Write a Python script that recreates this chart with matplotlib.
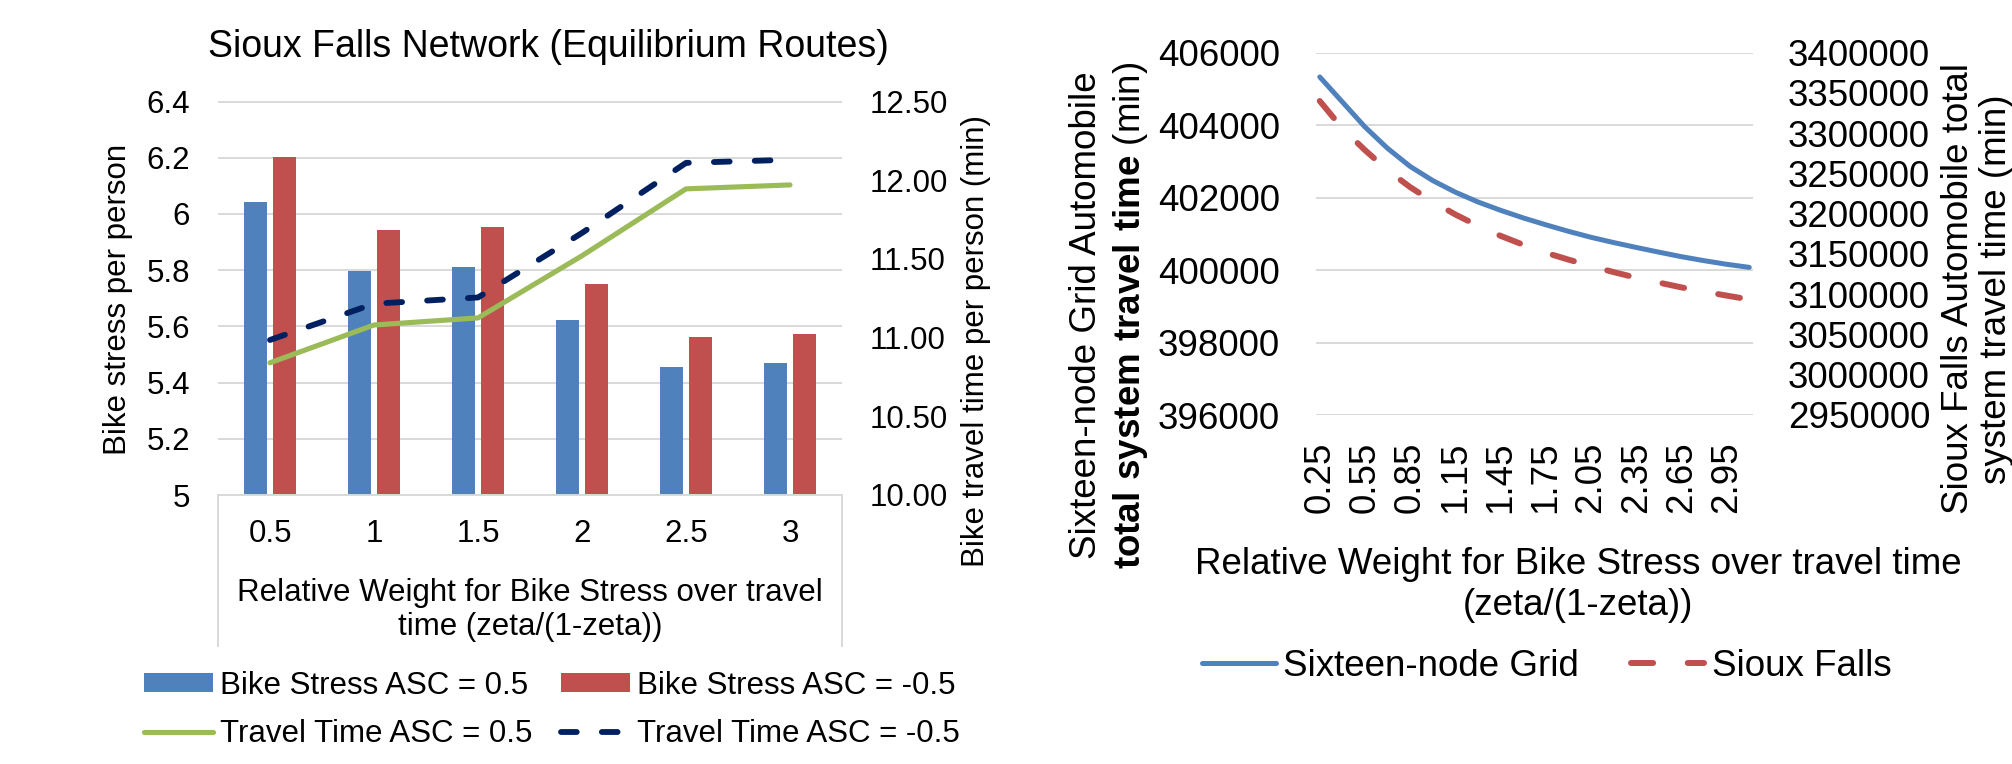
import numpy as np
import matplotlib
matplotlib.use("Agg")
import matplotlib.pyplot as plt
from matplotlib.ticker import FuncFormatter
from matplotlib.lines import Line2D

plt.rcParams['font.family'] = ['Liberation Sans', 'DejaVu Sans']
plt.rcParams['mathtext.fontset'] = 'custom'
plt.rcParams['mathtext.rm'] = 'Liberation Sans'
plt.rcParams['mathtext.bf'] = 'Liberation Sans:bold'

W, H = 2012, 764

# graphique gauche : Sioux Falls (routes d'équilibre)
weights = ["0.5", "1", "1.5", "2", "2.5", "3"]
stress_pos = [6.043, 5.798, 5.810, 5.623, 5.456, 5.468]
stress_neg = [6.202, 5.942, 5.954, 5.749, 5.562, 5.573]
ttime_pos = [10.84, 11.08, 11.125, 11.52, 11.945, 11.97]
ttime_neg = [10.985, 11.215, 11.255, 11.665, 12.11, 12.13]

# graphique droit : temps total automobile (lecture sur la courbe)
zeta = [0.25, 0.40, 0.55, 0.70, 0.85, 1.00, 1.15, 1.30, 1.45, 1.60,
        1.75, 1.90, 2.05, 2.20, 2.35, 2.50, 2.65, 2.80, 2.95, 3.10]
grid16 = [405330, 404640, 403950, 403360, 402860, 402470, 402150, 401880,
          401650, 401440, 401250, 401070, 400905, 400760, 400625, 400495,
          400370, 400260, 400160, 400075]
sioux = [3340000, 3306000, 3279000, 3254000, 3233000, 3215000, 3199000,
         3185000, 3172500, 3161500, 3151500, 3143000, 3135000, 3127500,
         3120500, 3114500, 3108500, 3103300, 3098300, 3093500]
zeta_ticks = [0.25, 0.55, 0.85, 1.15, 1.45, 1.75, 2.05, 2.35, 2.65, 2.95]

BLUE, RED, GREEN, NAVY, GRID = "#4F81BD", "#C0504D", "#9BBB59", "#002060", "#D9D9D9"
FS_L, FS_R = 22.5, 26.5


def fx(px):
    return px / W


def fy(py):
    return 1 - py / H


def clean(ax):
    for s in ax.spines.values():
        s.set_visible(False)


fig = plt.figure(figsize=(W / 100, H / 100), dpi=100)

# ---- gauche
ax = fig.add_axes([fx(218), fy(495), (842 - 218) / W, (495 - 101.5) / H])
x = np.arange(len(weights))
b1 = ax.bar(x - 0.143, stress_pos, 0.22, color=BLUE, label="Bike Stress ASC = 0.5")
b2 = ax.bar(x + 0.143, stress_neg, 0.22, color=RED, label="Bike Stress ASC = -0.5")
ax.set_xlim(-0.5, len(weights) - 0.5)
ax.set_ylim(5, 6.4)
ax.set_yticks(np.round(np.arange(5, 6.41, 0.2), 1))
ax.yaxis.set_major_formatter(FuncFormatter(lambda v, _: f"{round(v, 1):g}"))
ax.set_xticks(x, weights)
ax.grid(axis='y', color=GRID, lw=1.4)
ax.set_axisbelow(True)
clean(ax)
ax.spines['bottom'].set_visible(True)
ax.spines['bottom'].set_color(GRID)
ax.spines['bottom'].set_linewidth(1.4)
ax.tick_params(length=0, labelsize=FS_L)
ax.tick_params(axis='y', pad=20)
ax.tick_params(axis='x', pad=17)
# cadre sous l'axe des catégories
drop = -(646 - 495) / (495 - 101.5)
for xs in (0, 1):
    ax.add_line(Line2D([xs, xs], [0, drop], transform=ax.transAxes,
                       color=GRID, lw=1.4, clip_on=False))

ax2 = ax.twinx()
l1, = ax2.plot(x, ttime_pos, color=GREEN, lw=3.7, solid_capstyle='round',
               label="Travel Time ASC = 0.5")
l2, = ax2.plot(x, ttime_neg, color=NAVY, lw=4.2, dashes=(2.7, 4.3),
               dash_capstyle='round', label="Travel Time ASC = -0.5")
ax2.set_ylim(10, 12.5)
ax2.set_yticks(np.arange(10, 12.51, 0.5))
ax2.yaxis.set_major_formatter(FuncFormatter(lambda v, _: f"{v:.2f}"))
clean(ax2)
ax2.tick_params(length=0, labelsize=FS_L, pad=20)

fig.text(fx(548), fy(47), "Sioux Falls Network (Equilibrium Routes)",
         ha='center', va='center', fontsize=27)
fig.text(fx(118), fy(299), "Bike stress per person", rotation=90,
         ha='center', va='center', fontsize=FS_L)
fig.text(fx(976), fy(341), "Bike travel time per person (min)", rotation=90,
         ha='center', va='center', fontsize=FS_L)
fig.text(fx(530), fy(610), "Relative Weight for Bike Stress over travel\ntime (zeta/(1-zeta))",
         ha='center', va='center', fontsize=FS_L, linespacing=1.2)
fig.legend([b1, l1, b2, l2], [h.get_label() for h in (b1, l1, b2, l2)],
           ncol=2, loc='center', bbox_to_anchor=(fx(552), fy(710)),
           frameon=False, fontsize=FS_L, handlelength=2.2, handleheight=0.55,
           handletextpad=0.25, columnspacing=0.9, labelspacing=0.6, borderpad=0)

# ---- droite
ax3 = fig.add_axes([fx(1316), fy(415), (1753 - 1316) / W, (415 - 52.7) / H])
r1, = ax3.plot(zeta, grid16, color=BLUE, lw=3.6, solid_capstyle='round',
               label="Sixteen-node Grid")
ax3.set_xlim(0.225, 3.125)
ax3.set_ylim(396000, 406000)
ax3.set_yticks(np.arange(396000, 406001, 2000))
ax3.yaxis.set_major_formatter(FuncFormatter(lambda v, _: f"{v:.0f}"))
ax3.set_xticks(zeta_ticks, [f"{v:.2f}" for v in zeta_ticks], rotation=90)
ax3.grid(axis='y', color=GRID, lw=1.4)
ax3.set_axisbelow(True)
clean(ax3)
ax3.tick_params(length=0, labelsize=FS_R)
ax3.tick_params(axis='y', pad=26)
ax3.tick_params(axis='x', pad=19)

ax4 = ax3.twinx()
r2, = ax4.plot(zeta, sioux, color=RED, lw=4.3, dashes=(3.7, 5.8),
               dash_capstyle='round', label="Sioux Falls")
ax4.set_ylim(2950000, 3400000)
ax4.set_yticks(np.arange(2950000, 3400001, 50000))
ax4.yaxis.set_major_formatter(FuncFormatter(lambda v, _: f"{v:.0f}"))
clean(ax4)
ax4.tick_params(length=0, labelsize=FS_R, pad=25)

fig.text(fx(1087), fy(315), "Sixteen-node Grid Automobile", rotation=90,
         ha='center', va='center', fontsize=FS_R)
fig.text(fx(1130), fy(315), r"$\mathbf{total\ system\ travel\ time}$ (min)",
         rotation=90, ha='center', va='center', fontsize=FS_R)
fig.text(fx(1958), fy(289), "Sioux Falls Automobile total", rotation=90,
         ha='center', va='center', fontsize=FS_R)
fig.text(fx(1997), fy(289), "system travel time (min)", rotation=90,
         ha='center', va='center', fontsize=FS_R)
fig.text(fx(1578), fy(585), "Relative Weight for Bike Stress over travel time\n(zeta/(1-zeta))",
         ha='center', va='center', fontsize=FS_R, linespacing=1.2)
fig.legend([r1, r2], [r1.get_label(), r2.get_label()], ncol=2, loc='center',
           bbox_to_anchor=(fx(1547), fy(666)), frameon=False, fontsize=FS_R,
           handlelength=2.0, handletextpad=0.2, columnspacing=1.4, borderpad=0)

fig.savefig("out.png", dpi=100)
